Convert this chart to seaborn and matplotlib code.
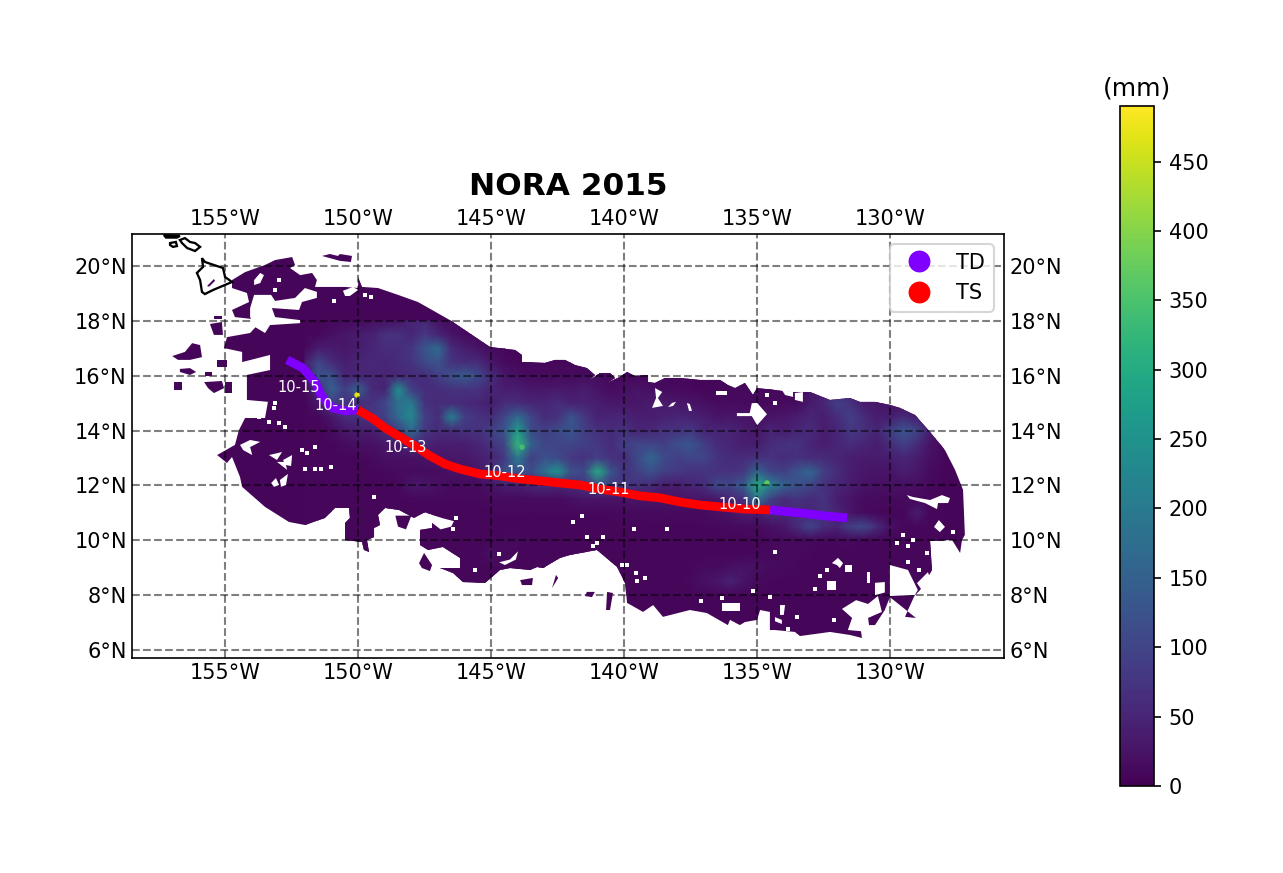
import matplotlib

matplotlib.use("Agg")

from matplotlib.lines import Line2D
from matplotlib.patches import Polygon
import matplotlib.pyplot as plt
import numpy as np
import seaborn as sns

sns.set_style("ticks", {"axes.edgecolor": "black", "text.color": "black",
                        "xtick.color": "black", "ytick.color": "black"})
plt.rcParams["font.family"] = "DejaVu Sans"

LON_TICKS = [-155, -150, -145, -140, -135, -130]
LAT_TICKS = [6, 8, 10, 12, 14, 16, 18, 20]
CBAR_TICKS = [0, 50, 100, 150, 200, 250, 300, 350, 400, 450]
RAIN_MAX = 490
RAIN_FLOOR = 6

# rainfall (mm) on a half degree grid, north to south
GRID_LON = [-152 + 0.5 * i for i in range(49)]
GRID_LAT = [18 - 0.5 * i for i in range(21)]
RAIN_MM = [
    [8, 8, 10, 15, 15, 20, 20, 25, 50, 55, 25, 15, 10, 8, 8, 8, 8, 8, 8, 8, 8, 8, 8, 8, 8, 8, 8, 8, 8, 8, 8, 8, 8, 8, 8, 8, 8, 8, 8, 8, 8, 8, 8, 8, 8, 8, 8, 8, 8],
    [8, 10, 20, 30, 35, 45, 70, 70, 50, 80, 50, 25, 15, 10, 8, 8, 8, 8, 8, 8, 8, 8, 8, 8, 8, 8, 8, 8, 8, 8, 8, 8, 8, 8, 8, 8, 8, 8, 8, 8, 8, 8, 8, 8, 8, 8, 8, 8, 8],
    [10, 40, 35, 30, 40, 50, 60, 60, 75, 130, 170, 60, 40, 25, 15, 10, 8, 8, 8, 8, 8, 8, 8, 8, 8, 8, 8, 8, 8, 8, 8, 8, 8, 8, 8, 8, 8, 8, 8, 8, 8, 8, 8, 8, 8, 8, 8, 8, 8],
    [40, 100, 60, 40, 50, 55, 50, 60, 70, 110, 130, 70, 60, 60, 30, 15, 10, 8, 8, 8, 8, 8, 8, 8, 8, 8, 10, 10, 10, 8, 8, 8, 8, 8, 8, 8, 8, 8, 8, 8, 8, 8, 8, 8, 8, 8, 8, 8, 8],
    [25, 130, 120, 50, 50, 50, 50, 55, 60, 60, 90, 120, 140, 110, 60, 30, 20, 15, 15, 15, 15, 15, 15, 15, 10, 10, 10, 10, 10, 10, 8, 8, 8, 8, 8, 8, 8, 8, 10, 15, 15, 10, 8, 8, 8, 8, 8, 8, 8],
    [10, 60, 150, 90, 150, 60, 45, 240, 90, 60, 60, 70, 70, 70, 50, 40, 40, 30, 30, 35, 30, 40, 25, 15, 20, 25, 20, 15, 15, 10, 8, 8, 10, 10, 10, 10, 10, 15, 25, 40, 60, 40, 25, 15, 10, 8, 8, 8, 8],
    [8, 30, 90, 70, 60, 70, 100, 180, 200, 70, 60, 60, 55, 50, 40, 60, 60, 50, 50, 60, 45, 45, 40, 30, 30, 30, 35, 35, 30, 25, 20, 15, 15, 15, 12, 12, 12, 15, 35, 50, 90, 70, 40, 30, 25, 20, 15, 10, 8],
    [8, 10, 30, 60, 70, 80, 90, 170, 230, 90, 60, 210, 90, 70, 60, 100, 170, 100, 60, 70, 130, 80, 45, 50, 50, 40, 40, 45, 50, 45, 40, 25, 30, 25, 20, 25, 30, 40, 50, 40, 60, 90, 60, 40, 40, 60, 40, 20, 8],
    [8, 8, 15, 30, 40, 40, 60, 90, 170, 80, 60, 60, 70, 70, 90, 130, 270, 110, 90, 110, 130, 90, 70, 60, 70, 50, 55, 70, 70, 80, 50, 50, 50, 40, 30, 50, 40, 50, 60, 40, 50, 80, 70, 50, 90, 130, 100, 40, 10],
    [8, 8, 8, 15, 20, 20, 30, 30, 70, 50, 40, 40, 40, 50, 70, 100, 320, 150, 100, 100, 100, 90, 80, 60, 90, 100, 100, 90, 120, 130, 90, 60, 50, 40, 40, 60, 70, 70, 50, 40, 50, 60, 50, 40, 60, 90, 60, 25, 10],
    [8, 8, 8, 8, 10, 15, 20, 20, 20, 25, 25, 30, 30, 40, 50, 80, 200, 90, 120, 110, 80, 70, 90, 70, 60, 110, 160, 110, 90, 100, 100, 70, 60, 60, 70, 70, 60, 70, 60, 60, 50, 40, 35, 35, 40, 50, 40, 20, 10],
    [8, 8, 8, 8, 8, 8, 10, 15, 15, 15, 15, 20, 20, 30, 60, 120, 130, 110, 180, 250, 120, 110, 300, 130, 70, 90, 120, 90, 80, 70, 70, 70, 70, 80, 160, 100, 90, 130, 160, 90, 60, 40, 30, 25, 25, 40, 30, 15, 8],
    [8, 8, 8, 8, 8, 8, 8, 10, 30, 30, 20, 15, 15, 15, 25, 40, 40, 50, 60, 50, 60, 70, 110, 80, 80, 70, 60, 40, 40, 50, 60, 110, 100, 140, 300, 220, 150, 120, 100, 70, 50, 40, 25, 20, 20, 20, 20, 10, 8],
    [8, 8, 8, 8, 8, 8, 8, 8, 10, 10, 10, 10, 10, 10, 15, 15, 15, 15, 15, 15, 20, 25, 25, 25, 25, 25, 25, 25, 25, 25, 25, 30, 50, 70, 190, 90, 60, 70, 60, 70, 40, 25, 15, 15, 12, 12, 10, 8, 8],
    [8, 8, 8, 8, 8, 8, 8, 8, 8, 8, 8, 8, 8, 8, 10, 10, 10, 10, 10, 10, 10, 10, 10, 10, 12, 12, 12, 12, 12, 12, 15, 20, 25, 40, 40, 60, 50, 60, 50, 70, 50, 25, 15, 10, 8, 8, 40, 8, 8],
    [8, 8, 8, 8, 8, 8, 8, 8, 8, 8, 8, 8, 8, 8, 8, 8, 8, 8, 8, 8, 8, 8, 8, 8, 8, 8, 8, 8, 8, 8, 10, 10, 12, 15, 15, 20, 30, 60, 100, 60, 50, 90, 110, 60, 20, 10, 8, 8, 8],
    [8, 8, 8, 8, 8, 8, 8, 8, 8, 8, 8, 8, 8, 8, 8, 12, 12, 8, 8, 8, 8, 8, 8, 8, 8, 8, 8, 8, 8, 8, 8, 8, 8, 8, 8, 10, 12, 12, 12, 10, 10, 12, 10, 8, 8, 8, 8, 8, 8],
    [8, 8, 8, 8, 8, 8, 8, 8, 8, 8, 8, 8, 8, 8, 20, 12, 8, 8, 8, 8, 8, 8, 8, 8, 8, 8, 8, 8, 8, 8, 8, 8, 8, 8, 10, 12, 15, 12, 10, 8, 8, 8, 8, 8, 8, 8, 8, 8, 8],
    [8, 8, 8, 8, 8, 8, 8, 8, 8, 8, 8, 8, 8, 8, 8, 8, 8, 8, 8, 8, 8, 8, 8, 8, 8, 8, 8, 8, 8, 10, 15, 15, 20, 25, 20, 15, 12, 10, 8, 8, 8, 8, 8, 8, 8, 8, 8, 8, 8],
    [8, 8, 8, 8, 8, 8, 8, 8, 8, 8, 8, 8, 8, 8, 8, 8, 8, 8, 8, 8, 8, 8, 8, 8, 8, 8, 8, 8, 8, 12, 20, 30, 45, 25, 12, 10, 8, 8, 8, 8, 8, 8, 8, 8, 8, 8, 8, 8, 8],
    [8, 8, 8, 8, 8, 8, 8, 8, 8, 8, 8, 8, 8, 8, 8, 8, 8, 8, 8, 8, 8, 8, 8, 8, 8, 8, 8, 8, 8, 8, 8, 8, 8, 8, 8, 8, 8, 8, 8, 8, 8, 8, 8, 8, 8, 8, 8, 8, 8],
]

# sharp maxima too small for the half degree grid
PEAK_LON = [-150.04, -134.63, -143.84]
PEAK_LAT = [15.3, 12.09, 13.4]
PEAK_MM = [470, 370, 340]

# edge of the rain swath
SWATH_LON = [-154.74, -154.25, -153.5, -153.12, -152.48, -152.37, -152.56, -152.18, -151.73, -151.55, -151.62, -150.49, -150, -150, -149.85, -149.25, -148.5, -147.75, -147.22, -146.55, -145.04, -144.1, -143.84, -143.84, -142.98, -142.6, -142.22, -141.85, -141.4, -141.1, -141.28, -140.91, -140.53, -140.34, -140.64, -140.16, -139.89, -139.59, -139.1, -139.1, -138.84, -138.46, -137.9, -137.15, -136.4, -136.1, -135.83, -135.46, -135.16, -135, -134.33, -133.77, -133.01, -132.26, -131.51, -131.13, -130.57, -130.01, -129.63, -129.07, -128.5, -127.94, -127.56, -127.26, -127.19, -127.3, -127.37, -127.67, -128.5, -128.43, -128.88, -129.07, -129.33, -129.44, -129.03, -130.01, -130.2, -130.57, -131.13, -131.06, -131.51, -132.26, -133.39, -133.58, -134.33, -134.52, -134.52, -134.89, -135, -135.46, -135.65, -136.02, -136.1, -136.89, -137.53, -138.54, -138.91, -139.29, -139.89, -139.96, -140.26, -141.02, -142.03, -142.41, -143.05, -143.27, -143.54, -144.29, -144.67, -144.97, -145.23, -146.06, -146.43, -146.92, -146.17, -146.17, -146.81, -147.37, -147.67, -147.67, -147.22, -147.22, -147.48, -147.9, -148.46, -148.99, -149.25, -149.18, -149.4, -149.4, -149.67, -149.59, -149.78, -149.85, -150.49, -150.49, -150.31, -150.34, -150.87, -151.25, -152, -152.6, -153.5, -154.36, -154.44, -154.74, -154.93, -155.3, -154.63, -154.48, -154.25, -153.5, -153.39, -154.18, -154.18, -153.31, -153.31, -154.36, -154.36, -155.04, -154.93, -154.06, -153.61, -154.63, -154.74, -154.1, -154.18, -154.74]
SWATH_LAT = [19.49, 19.78, 20.04, 20.22, 20.33, 20.04, 19.93, 19.67, 19.75, 19.49, 19.24, 19.24, 19.2, 19.6, 19.24, 19.2, 18.95, 18.69, 18.4, 18.03, 17.05, 16.94, 16.76, 16.5, 16.47, 16.58, 16.58, 16.39, 16.28, 16.03, 15.85, 16.1, 16.1, 15.92, 15.74, 15.96, 16.14, 15.99, 16.03, 15.77, 15.74, 15.92, 15.92, 15.85, 15.85, 15.66, 15.55, 15.74, 15.3, 15.55, 15.48, 15.41, 15.41, 15.12, 15.19, 15.05, 15.05, 14.94, 14.83, 14.57, 13.95, 13.29, 12.57, 11.84, 10.2, 10.01, 9.54, 10.01, 9.98, 8.92, 8.19, 8.01, 7.46, 7.21, 7.17, 7.93, 7.46, 6.91, 6.91, 6.44, 6.55, 6.66, 6.51, 6.66, 6.73, 6.73, 7.39, 7.46, 7.1, 7.02, 6.91, 7.1, 6.91, 7.35, 7.46, 7.21, 7.64, 7.39, 7.72, 8.45, 9.03, 9.65, 9.47, 9.36, 8.99, 9.03, 8.92, 8.99, 8.92, 8.66, 8.45, 8.48, 8.81, 8.99, 8.99, 9.36, 9.76, 9.65, 9.83, 10.38, 10.45, 10.93, 11.03, 10.82, 11.11, 11.18, 10.93, 10.56, 10.45, 10.12, 10.01, 9.58, 9.65, 9.94, 10.01, 10.63, 10.82, 11.18, 11.18, 10.82, 10.56, 10.67, 11.22, 11.95, 12.31, 13.04, 12.82, 13.11, 13.48, 14.02, 14.46, 14.46, 15.05, 15.12, 16.03, 16.21, 16.76, 16.5, 16.87, 17.01, 17.41, 17.56, 18.03, 18.14, 18.4, 18.69, 19.02, 19.2]

# gaps inside the swath, (lon, lat) corners
GAPS = [
    [(-154.06, 18.47), (-153.91, 18.95), (-153.27, 18.95), (-153.12, 18.73), (-152.37, 18.84), (-152.0, 19.2), (-151.55, 19.06), (-151.55, 18.84), (-152.11, 18.69), (-152.22, 18.4), (-153.24, 18.47), (-153.12, 18.14), (-152.18, 18.03), (-152.18, 17.92), (-153.31, 17.85), (-153.5, 17.56), (-153.88, 17.78), (-154.06, 18.14)],
    [(-153.91, 19.49), (-153.68, 19.75), (-153.54, 19.67), (-153.68, 19.38), (-153.91, 19.31)],
    [(-150.57, 19.1), (-150.19, 19.24), (-150, 19.13), (-150.31, 18.91), (-150.49, 18.91)],
    [(-154.44, 13.48), (-154.06, 13.66), (-153.68, 13.59), (-154.06, 13.4), (-153.98, 13.11), (-154.32, 13.29)],
    [(-153.35, 13.11), (-152.86, 13.22), (-153.05, 12.93)],
    [(-153.05, 12.86), (-152.67, 12.57), (-152.74, 12.86)],
    [(-152.82, 12.93), (-152.48, 13.11), (-152.52, 12.71), (-152.74, 12.75)],
    [(-153.27, 12.09), (-153.09, 12.27), (-152.97, 12.02), (-153.16, 11.95)],
    [(-152.94, 12.2), (-152.64, 12.42), (-152.71, 12.02), (-152.9, 11.95)],
    [(-138.84, 15.55), (-138.57, 15.41), (-138.73, 15.19), (-138.54, 14.9), (-138.95, 14.83), (-138.8, 15.19)],
    [(-138.35, 14.86), (-138.2, 15.01), (-138.05, 15.05), (-138.16, 14.9)],
    [(-137.64, 15.01), (-137.53, 14.97), (-137.45, 14.72), (-137.56, 14.72)],
    [(-136.55, 15.45), (-136.14, 15.45), (-136.14, 15.3), (-136.55, 15.3)],
    [(-135.76, 14.64), (-135.28, 14.64), (-135.2, 15.0), (-135, 15.01), (-134.63, 14.6), (-135, 14.2), (-135.2, 14.53), (-135.76, 14.53)],
    [(-129.37, 11.65), (-129.14, 11.58), (-128.5, 11.47), (-128.05, 11.65), (-127.75, 11.54), (-127.82, 11.36), (-128.2, 11.36), (-128.24, 11.14), (-128.69, 11.36), (-129.26, 11.51)],
    [(-134.07, 15.48), (-133.65, 15.41), (-133.65, 15.23), (-133.95, 15.3)],
    [(-133.58, 15.37), (-133.28, 15.41), (-133.28, 15.05), (-133.58, 15.12)],
    [(-128.35, 10.49), (-128.17, 10.74), (-127.94, 10.49), (-128.13, 10.3)],
    [(-132.19, 9.17), (-131.96, 9.36), (-131.77, 9.17), (-131.89, 8.99), (-132.0, 9.1)],
    [(-131.7, 9.1), (-131.45, 9.1), (-131.45, 8.84), (-131.7, 8.84)],
    [(-130.87, 8.84), (-130.76, 8.84), (-130.76, 8.45), (-130.87, 8.45)],
    [(-132.37, 8.52), (-132.04, 8.52), (-132.04, 8.19), (-132.37, 8.19)],
    [(-130.57, 8.45), (-130.2, 8.48), (-130.2, 8.1), (-130.57, 8.0)],
    [(-131.81, 7.5), (-131.28, 7.82), (-130.83, 7.68), (-130.46, 7.97), (-130.31, 7.39), (-130.83, 7.17), (-130.76, 6.66), (-131.59, 6.73), (-131.43, 7.17)],
    [(-130.01, 9.1), (-129.33, 8.92), (-128.96, 8.19), (-129.07, 8.01), (-130.01, 7.97)],
    [(-128.99, 8.44), (-128.58, 8.84), (-128.47, 8.55), (-128.81, 8.19)],
    [(-147.3, 10.95), (-146.8, 10.8), (-146.4, 10.7), (-146.5, 10.5), (-146.9, 10.4), (-147.3, 10.7)],
    [(-144.7, 9.2), (-144.29, 9.3), (-143.99, 9.6), (-144.07, 9.3), (-144.48, 9.1)],
    [(-136.32, 7.72), (-135.65, 7.72), (-135.65, 7.42), (-136.32, 7.42)],
    [(-134.14, 7.64), (-133.95, 7.64), (-134.0, 7.28), (-134.14, 7.28)],
    [(-134.33, 7.2), (-134.07, 7.1), (-134.07, 6.95), (-134.33, 7.05)],
]

# one cell gaps
SPECK_LON = [-152.11, -151.92, -151.62, -152.0, -151.62, -151.4, -151.02, -149.4, -152.97, -153.12, -150.91, -149.74, -149.52, -153.12, -153.16, -153.73, -153.35, -152.97, -152.75, -141.58, -141.92, -146.32, -146.43, -139.63, -138.39, -141.4, -141.02, -140.8, -141.17, -145.61, -144.7, -139.55, -139.22, -139.52, -140.08, -139.89, -137.11, -134.63, -134.33, -134.33, -133.5, -132.37, -132.64, -132.83, -129.74, -129.33, -129.14, -129.52, -128.62, -127.64, -128.92, -129.33, -136.32, -132.1, -133.84, -135.15, -134.52]
SPECK_LAT = [13.29, 13.18, 13.4, 12.6, 12.6, 12.6, 12.67, 11.58, 19.49, 19.13, 18.73, 18.95, 18.87, 15.01, 14.83, 14.5, 14.32, 14.28, 14.13, 10.89, 10.67, 10.82, 10.41, 10.41, 10.41, 10.12, 9.9, 10.12, 9.79, 8.92, 9.5, 8.81, 8.63, 8.52, 9.1, 9.1, 7.79, 15.3, 15.01, 9.58, 7.21, 8.92, 8.7, 8.23, 9.9, 9.79, 10.01, 10.2, 9.54, 10.3, 8.92, 9.21, 7.9, 7.1, 6.77, 8.15, 7.92]

# detached patches of light rain
PATCHES = [
    [(-143.91, 8.55), (-143.43, 8.63), (-143.46, 8.37), (-143.84, 8.37)],
    [(-140.64, 8.12), (-140.42, 8.08), (-140.53, 7.46), (-140.68, 7.46)],
    [(-141.4, 8.12), (-141.1, 8.12), (-141.21, 7.93), (-141.47, 7.97)],
    [(-142.56, 8.74), (-142.48, 8.63), (-142.71, 8.26)],
    [(-156.99, 16.72), (-156.51, 16.87), (-156.24, 17.19), (-155.94, 17.12), (-155.87, 16.68), (-156.32, 16.58), (-156.77, 16.58)],
    [(-156.7, 16.25), (-156.32, 16.28), (-156.09, 16.14), (-156.32, 16.03), (-156.7, 16.14)],
    [(-155.76, 16.14), (-155.49, 16.14), (-155.49, 15.99), (-155.76, 15.99)],
    [(-155.79, 15.77), (-155.12, 15.81), (-155.04, 15.55), (-155.42, 15.37), (-155.64, 15.55)],
    [(-156.92, 15.77), (-156.62, 15.77), (-156.62, 15.48), (-156.92, 15.48)],
    [(-155, 15.77), (-154.74, 15.77), (-154.74, 15.37), (-155, 15.37)],
    [(-155.57, 17.89), (-155.12, 17.96), (-155.08, 17.49), (-155.42, 17.49)],
    [(-155.42, 18.17), (-155.12, 18.17), (-155.12, 18.06), (-155.42, 18.06)],
    [(-155.3, 16.58), (-154.93, 16.58), (-154.93, 16.32), (-155.3, 16.32)],
    [(-151.36, 20.37), (-151.06, 20.44), (-150.76, 20.37), (-150.68, 20.44), (-150.23, 20.37), (-150.27, 20.15), (-150.68, 20.19)],
    [(-147.71, 9.17), (-147.52, 9.54), (-147.22, 9.1), (-147.3, 8.88), (-147.6, 8.99)],
    [(-148.6, 10.9), (-148.0, 10.9), (-148.2, 10.4), (-148.5, 10.5)],
    [(-155.68, 19.27), (-155.42, 19.53), (-155.38, 19.46), (-155.6, 19.25)],
]

# Hawaiian islands
ISLANDS = [
    [(-155.87, 20.29), (-155.76, 20.15), (-155.08, 19.93), (-155.0, 19.6), (-154.74, 19.42), (-155.45, 19.13), (-155.76, 18.98), (-155.87, 19.06), (-155.94, 19.49), (-156.06, 19.75), (-155.83, 19.97)],
    [(-156.7, 20.95), (-156.51, 21.02), (-156.32, 20.88), (-156.13, 20.84), (-155.94, 20.7), (-156.13, 20.55), (-156.43, 20.66), (-156.62, 20.84)],
    [(-157.07, 20.84), (-156.85, 20.88), (-156.81, 20.73), (-156.96, 20.7), (-157.07, 20.77)],
    [(-157.3, 21.13), (-156.7, 21.1), (-156.81, 21.04), (-157.22, 21.04)],
]

# storm track
TD_EARLY_LON = [-134.51, -133.39, -132.45, -131.62]
TD_EARLY_LAT = [11.11, 11.0, 10.89, 10.82]
TS_LON = [-150.0, -149.48, -148.99, -148.42, -147.86, -147.30, -146.73, -146.17, -145.42, -144.67, -143.91, -143.16, -142.41, -141.66, -140.91, -140.15, -139.40, -138.65, -137.90, -137.15, -136.39, -135.45, -134.51]
TS_LAT = [14.75, 14.46, 14.10, 13.77, 13.44, 13.08, 12.78, 12.60, 12.42, 12.35, 12.24, 12.17, 12.09, 12.02, 11.87, 11.76, 11.62, 11.55, 11.40, 11.29, 11.22, 11.14, 11.11]
TD_LATE_LON = [-152.67, -152.07, -151.62, -151.36, -150.98, -150.49, -150.0]
TD_LATE_LAT = [16.58, 16.28, 15.77, 15.23, 14.83, 14.72, 14.75]

DATE_LABELS = ["10-15", "10-14", "10-13", "10-12", "10-11", "10-10"]
DATE_LON = [-152.22, -150.83, -148.2, -144.48, -140.57, -135.64]
DATE_LAT = [15.59, 14.9, 13.37, 12.49, 11.84, 11.29]

TD_COLOR = "#7f00ff"
TS_COLOR = "#ff0000"

fig = plt.figure(figsize=(1283 / 150, 873 / 150), dpi=150)
ax = fig.add_axes([132 / 1283, 1 - 658 / 873, 872 / 1283, 424 / 873])
cax = fig.add_axes([1120 / 1283, 1 - 786 / 873, 34 / 1283, 680 / 873])

cmap = plt.get_cmap("viridis")
base_color = cmap(RAIN_FLOOR / RAIN_MAX)

# rain field, clipped to the swath
swath = Polygon(list(zip(SWATH_LON, SWATH_LAT)), closed=True, facecolor=base_color,
                edgecolor="none", zorder=1)
ax.add_patch(swath)
mesh = ax.pcolormesh(GRID_LON, GRID_LAT, np.array(RAIN_MM), shading="gouraud", cmap=cmap,
                     vmin=0, vmax=RAIN_MAX, zorder=2)
mesh.set_clip_path(swath)
sns.scatterplot(x=PEAK_LON, y=PEAK_LAT, hue=PEAK_MM, palette="viridis", hue_norm=(0, RAIN_MAX),
                s=7, linewidth=0, legend=False, zorder=2.5, ax=ax)

for corners in PATCHES:
    ax.add_patch(Polygon(corners, closed=True, facecolor=base_color, edgecolor="none", zorder=3))
for corners in GAPS:
    ax.add_patch(Polygon(corners, closed=True, facecolor="white", edgecolor="none", zorder=3))
sns.scatterplot(x=SPECK_LON, y=SPECK_LAT, color="white", marker="s", s=3, linewidth=0,
                legend=False, zorder=3, ax=ax)

for corners in ISLANDS:
    ax.add_patch(Polygon(corners, closed=True, facecolor="none", edgecolor="black",
                         linewidth=1.1, zorder=4))

for lons, lats, color in [
    (TD_LATE_LON, TD_LATE_LAT, TD_COLOR),
    (TS_LON, TS_LAT, TS_COLOR),
    (TD_EARLY_LON, TD_EARLY_LAT, TD_COLOR),
]:
    sns.lineplot(x=lons, y=lats, sort=False, estimator=None, color=color, linewidth=4.2,
                 solid_capstyle="butt", zorder=6, ax=ax)

for label, lon, lat in zip(DATE_LABELS, DATE_LON, DATE_LAT):
    ax.text(lon, lat, label, color="white", fontsize=7, ha="center", va="center", zorder=7)

ax.set_xlim(-158.5, -125.72)
ax.set_ylim(5.71, 21.17)
ax.set_xticks(LON_TICKS, [f"{abs(v)}°W" for v in LON_TICKS])
ax.set_yticks(LAT_TICKS, [f"{v}°N" for v in LAT_TICKS])
ax.tick_params(length=0, pad=2.5, labelsize=10, top=True, right=True, labeltop=True, labelright=True)
ax.grid(True, color="black", alpha=0.5, linestyle="--", linewidth=1, zorder=5)
ax.set_axisbelow(False)
for spine in ax.spines.values():
    spine.set_linewidth(0.8)
    spine.set_zorder(8)
ax.set_title("NORA 2015", fontsize=15, fontweight="bold", pad=18.5)

handles = [
    Line2D([], [], linestyle="none", marker="o", markersize=9.5, color=TD_COLOR, label="TD"),
    Line2D([], [], linestyle="none", marker="o", markersize=9.5, color=TS_COLOR, label="TS"),
]
ax.legend(handles=handles, loc="upper right", fontsize=10, frameon=True, framealpha=0.8).set_zorder(9)

cbar = fig.colorbar(mesh, cax=cax, ticks=CBAR_TICKS)
cbar.ax.tick_params(labelsize=10, length=3.5, width=0.8, pad=3.5, right=True, left=False)
cbar.outline.set_linewidth(0.8)
cax.set_title("(mm)", fontsize=12, pad=5)

fig.savefig("out.png", dpi=150)
plt.close(fig)
